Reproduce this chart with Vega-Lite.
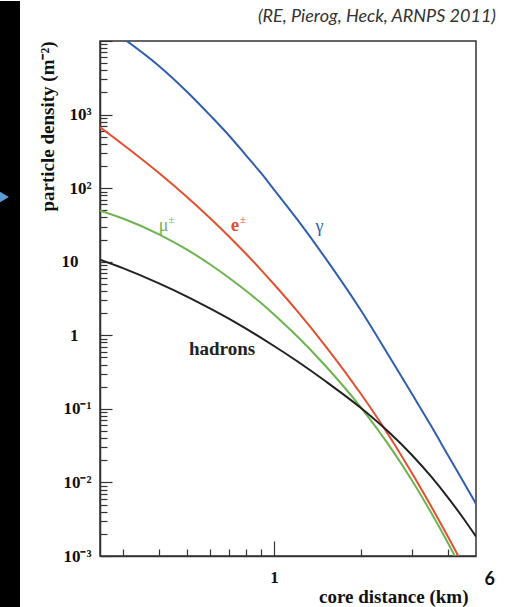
{
  "$schema": "https://vega.github.io/schema/vega-lite/v6.json",
  "background": "white",
  "padding": 0,
  "spacing": 17,
  "align": "none",
  "datasets": {
    "strip": [{"x": 0, "x2": 1, "y": 0, "y2": 1.07055}],
    "arrow": [{"x": 0.1, "y": 0.7249}],
    "curves": [
      {"series": "gamma", "x": 0.25, "y": 18070}, {"series": "gamma", "x": 0.3, "y": 10940}, {"series": "gamma", "x": 0.4, "y": 4581}, {"series": "gamma", "x": 0.5, "y": 2042}, {"series": "gamma", "x": 0.6, "y": 984}, {"series": "gamma", "x": 0.7, "y": 516}, {"series": "gamma", "x": 0.8, "y": 279}, {"series": "gamma", "x": 0.9, "y": 162}, {"series": "gamma", "x": 1, "y": 95.7}, {"series": "gamma", "x": 1.2, "y": 38.1}, {"series": "gamma", "x": 1.5, "y": 11.45}, {"series": "gamma", "x": 2, "y": 2.17}, {"series": "gamma", "x": 2.5, "y": 0.522}, {"series": "gamma", "x": 3, "y": 0.16}, {"series": "gamma", "x": 3.5, "y": 0.0583}, {"series": "gamma", "x": 4, "y": 0.0234}, {"series": "gamma", "x": 4.5, "y": 0.01052}, {"series": "gamma", "x": 5, "y": 0.00513},
      {"series": "e", "x": 0.25, "y": 671.6}, {"series": "e", "x": 0.3, "y": 392}, {"series": "e", "x": 0.4, "y": 160.4}, {"series": "e", "x": 0.5, "y": 75.7}, {"series": "e", "x": 0.6, "y": 39.3}, {"series": "e", "x": 0.7, "y": 21.9}, {"series": "e", "x": 0.8, "y": 12.82}, {"series": "e", "x": 0.9, "y": 7.82}, {"series": "e", "x": 1, "y": 4.94}, {"series": "e", "x": 1.2, "y": 2.16}, {"series": "e", "x": 1.5, "y": 0.731}, {"series": "e", "x": 2, "y": 0.159}, {"series": "e", "x": 2.5, "y": 0.0432}, {"series": "e", "x": 3, "y": 0.01343}, {"series": "e", "x": 3.5, "y": 0.00471}, {"series": "e", "x": 4, "y": 0.001824}, {"series": "e", "x": 4.5, "y": 0.000771},
      {"series": "mu", "x": 0.25, "y": 49.4}, {"series": "mu", "x": 0.3, "y": 38.7}, {"series": "mu", "x": 0.4, "y": 23.6}, {"series": "mu", "x": 0.5, "y": 14.6}, {"series": "mu", "x": 0.6, "y": 9.25}, {"series": "mu", "x": 0.7, "y": 6.02}, {"series": "mu", "x": 0.8, "y": 4.03}, {"series": "mu", "x": 0.9, "y": 2.76}, {"series": "mu", "x": 1, "y": 1.92}, {"series": "mu", "x": 1.2, "y": 0.977}, {"series": "mu", "x": 1.5, "y": 0.392}, {"series": "mu", "x": 2, "y": 0.1042}, {"series": "mu", "x": 2.5, "y": 0.0319}, {"series": "mu", "x": 3, "y": 0.01069}, {"series": "mu", "x": 3.5, "y": 0.00386}, {"series": "mu", "x": 4, "y": 0.0015}, {"series": "mu", "x": 4.5, "y": 0.000618},
      {"series": "hadrons", "x": 0.25, "y": 10.65}, {"series": "hadrons", "x": 0.3, "y": 8.18}, {"series": "hadrons", "x": 0.4, "y": 5.08}, {"series": "hadrons", "x": 0.5, "y": 3.36}, {"series": "hadrons", "x": 0.6, "y": 2.32}, {"series": "hadrons", "x": 0.7, "y": 1.67}, {"series": "hadrons", "x": 0.8, "y": 1.23}, {"series": "hadrons", "x": 0.9, "y": 0.927}, {"series": "hadrons", "x": 1, "y": 0.715}, {"series": "hadrons", "x": 1.2, "y": 0.447}, {"series": "hadrons", "x": 1.5, "y": 0.241}, {"series": "hadrons", "x": 2, "y": 0.1026}, {"series": "hadrons", "x": 2.5, "y": 0.048}, {"series": "hadrons", "x": 3, "y": 0.0236}, {"series": "hadrons", "x": 3.5, "y": 0.01197}, {"series": "hadrons", "x": 4, "y": 0.00622}, {"series": "hadrons", "x": 4.5, "y": 0.00334}, {"series": "hadrons", "x": 5, "y": 0.001845}
    ],
    "labelsNormal": [
      {"series": "gamma", "t": "γ", "x": 1.437, "y": 29.9},
      {"series": "mu", "t": "μ", "x": 0.4147, "y": 30.9}
    ],
    "labelsBold": [
      {"series": "e", "t": "e", "x": 0.733, "y": 31.8},
      {"series": "hadrons", "t": "hadrons", "x": 0.661, "y": 0.655}
    ],
    "sup": [
      {"series": "e", "t": "±", "x": 0.781, "y": 37.3},
      {"series": "mu", "t": "±", "x": 0.4417, "y": 37.3}
    ],
    "note": [{"t": "6", "x": 5.578, "y": 0.000471}]
  },
  "hconcat": [
    {
      "width": 20,
      "height": 567,
      "view": {"fill": null, "stroke": null},
      "encoding": {
        "x": {"field": "x", "type": "quantitative", "scale": {"domain": [0, 1], "nice": false, "zero": false}, "axis": null},
        "y": {"field": "y", "type": "quantitative", "scale": {"domain": [0, 1], "nice": false, "zero": false}, "axis": null}
      },
      "layer": [
        {
          "data": {"name": "strip"},
          "mark": {"type": "rect", "color": "black", "clip": false},
          "encoding": {
            "x2": {"field": "x2"},
            "y2": {"field": "y2"}
          }
        },
        {
          "data": {"name": "arrow"},
          "mark": {"type": "point", "shape": "triangle-right", "filled": true, "size": 260, "color": "#5b9bd5", "opacity": 1, "clip": true}
        }
      ]
    },
    {
      "width": 376,
      "height": 515,
      "view": {"stroke": "#333", "strokeWidth": 1.5},
      "title": {
        "text": ["", "(RE, Pierog, Heck, ARNPS 2011)"],
        "lineHeight": 7,
        "anchor": "end",
        "frame": "group",
        "dx": 20,
        "font": "Lato",
        "fontStyle": "italic",
        "fontWeight": "normal",
        "fontSize": 18,
        "color": "#333",
        "offset": 6
      },
      "encoding": {
        "x": {
          "field": "x",
          "type": "quantitative",
          "scale": {"type": "log", "domain": [0.25, 5], "nice": false},
          "axis": {
            "values": [0.3, 0.4, 0.5, 0.6, 0.7, 0.8, 0.9, 1, 2, 3, 4],
            "labelExpr": "datum.value == 1 ? '1' : ''",
            "labelOverlap": false,
            "labelFlush": false,
            "labelFont": "Liberation Serif",
            "labelFontWeight": "bold",
            "labelFontSize": 17,
            "labelColor": "#111",
            "labelPadding": 28,
            "tickSize": {"condition": {"test": "datum.value == 1", "value": -15}, "value": -7},
            "tickColor": "#333",
            "tickWidth": 1.2,
            "domainColor": "#333",
            "domainWidth": 1.5,
            "grid": false,
            "title": "core distance (km)",
            "titleFont": "Liberation Serif",
            "titleFontWeight": "bold",
            "titleFontSize": 19,
            "titleColor": "#111",
            "titleX": 368,
            "titleY": 40,
            "titleAlign": "right",
            "titleBaseline": "middle"
          }
        },
        "y": {
          "field": "y",
          "type": "quantitative",
          "scale": {"type": "log", "domain": [0.001, 10000], "nice": false},
          "axis": {
            "values": [0.001, 0.002, 0.003, 0.004, 0.005, 0.006, 0.007, 0.008, 0.009, 0.01, 0.02, 0.03, 0.04, 0.05, 0.06, 0.07, 0.08, 0.09, 0.1, 0.2, 0.3, 0.4, 0.5, 0.6, 0.7, 0.8, 0.9, 1, 2, 3, 4, 5, 6, 7, 8, 9, 10, 20, 30, 40, 50, 60, 70, 80, 90, 100, 200, 300, 400, 500, 600, 700, 800, 900, 1000, 2000, 3000, 4000, 5000, 6000, 7000, 8000, 9000, 10000],
            "labelExpr": "datum.value == 1000 ? '10³' : datum.value == 100 ? '10²' : datum.value == 10 ? '10' : datum.value == 1 ? '1' : datum.value == 0.1 ? '10⁻¹' : datum.value == 0.01 ? '10⁻²' : datum.value == 0.001 ? '10⁻³' : ''",
            "labelOverlap": false,
            "labelFlush": false,
            "labelFont": "Liberation Serif",
            "labelFontWeight": "bold",
            "labelFontSize": 17,
            "labelColor": "#111",
            "labelPadding": {"condition": {"test": "datum.value == 1 || datum.value == 10", "value": 34}, "value": 21},
            "tickSize": {"condition": {"test": "abs(log(datum.value) / LN10 - round(log(datum.value) / LN10)) < 0.001", "value": -12}, "value": -7},
            "tickColor": "#333",
            "tickWidth": 1.2,
            "domainColor": "#333",
            "domainWidth": 1.5,
            "grid": false,
            "title": "particle density (m⁻²)",
            "titleFont": "Liberation Serif",
            "titleFontWeight": "bold",
            "titleFontSize": 19,
            "titleColor": "#111",
            "titleAngle": 270,
            "titleX": -53,
            "titleY": 0,
            "titleAlign": "right",
            "titleBaseline": "middle"
          }
        }
      },
      "layer": [
        {
          "data": {"name": "curves"},
          "mark": {"type": "line", "clip": true, "strokeWidth": 2, "interpolate": "monotone"},
          "encoding": {
            "color": {"field": "series", "type": "nominal", "legend": null, "scale": {"domain": ["gamma", "e", "mu", "hadrons"], "range": ["#2f5fad", "#e4502f", "#6cb44f", "#222222"]}}
          }
        },
        {
          "data": {"name": "labelsNormal"},
          "mark": {"type": "text", "font": "Liberation Serif", "fontSize": 18, "align": "center", "baseline": "middle"},
          "encoding": {
            "text": {"field": "t"},
            "color": {"field": "series", "type": "nominal", "legend": null}
          }
        },
        {
          "data": {"name": "labelsBold"},
          "mark": {"type": "text", "font": "Liberation Serif", "fontWeight": "bold", "fontSize": 19, "align": "center", "baseline": "middle"},
          "encoding": {
            "text": {"field": "t"},
            "color": {"field": "series", "type": "nominal", "legend": null}
          }
        },
        {
          "data": {"name": "sup"},
          "mark": {"type": "text", "font": "Liberation Serif", "fontSize": 11, "align": "center", "baseline": "middle"},
          "encoding": {
            "text": {"field": "t"},
            "color": {"field": "series", "type": "nominal", "legend": null}
          }
        },
        {
          "data": {"name": "note"},
          "mark": {"type": "text", "font": "Lato", "fontWeight": "bold", "fontSize": 18, "align": "center", "baseline": "middle", "color": "#111"},
          "encoding": {
            "text": {"field": "t"}
          }
        }
      ]
    }
  ]
}
